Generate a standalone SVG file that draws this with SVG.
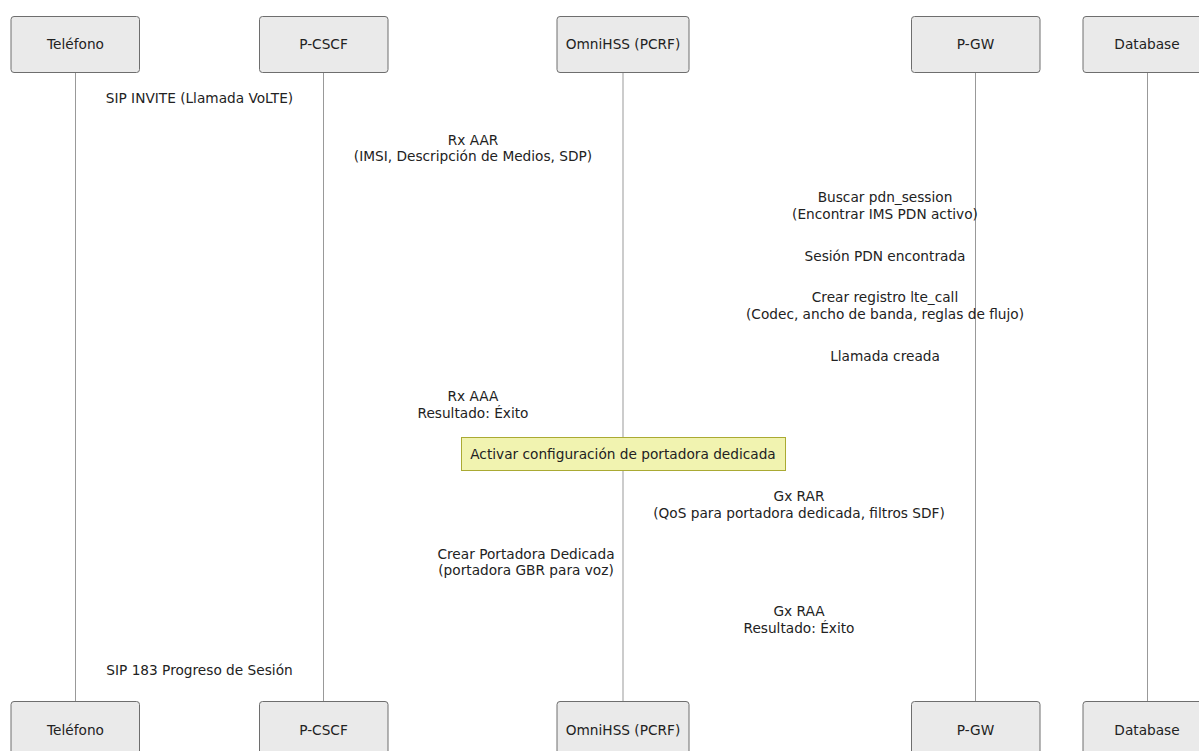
<svg xmlns="http://www.w3.org/2000/svg" width="1199" height="751" viewBox="0 0 1199 751">
<style>
.actor{fill:#eaeaea;stroke:#6e6e6e;stroke-width:1}
.life{stroke:#999;stroke-width:1;fill:none}
.t{font-family:"DejaVu Sans",sans-serif;font-size:13.7px;fill:#222;text-anchor:middle}
.note{fill:#f1f3b0;stroke:#aaaa33;stroke-width:1}
</style>
<rect width="1199" height="751" fill="#ffffff"/>
<g id="connectors">
<line class="life" x1="75.5" y1="73" x2="75.5" y2="702"/>
<line class="life" x1="323.5" y1="73" x2="323.5" y2="702"/>
<line class="life" x1="623" y1="73" x2="623" y2="702"/>
<line class="life" x1="975.5" y1="73" x2="975.5" y2="702"/>
<line class="life" x1="1147.5" y1="73" x2="1147.5" y2="702"/>
<text class="t" x="199.5" y="103">SIP INVITE (Llamada VoLTE)</text>
<text class="t" x="473" y="144.5">Rx AAR</text>
<text class="t" x="473" y="161">(IMSI, Descripción de Medios, SDP)</text>
<text class="t" x="885" y="202">Buscar pdn_session</text>
<text class="t" x="885" y="218.5">(Encontrar IMS PDN activo)</text>
<text class="t" x="885" y="260.5">Sesión PDN encontrada</text>
<text class="t" x="885" y="302">Crear registro lte_call</text>
<text class="t" x="885" y="319">(Codec, ancho de banda, reglas de flujo)</text>
<text class="t" x="885" y="360.5">Llamada creada</text>
<text class="t" x="473" y="400.5">Rx AAA</text>
<text class="t" x="473" y="418">Resultado: Éxito</text>
<text class="t" x="799" y="500.5">Gx RAR</text>
<text class="t" x="799" y="518">(QoS para portadora dedicada, filtros SDF)</text>
<text class="t" x="526" y="558.5">Crear Portadora Dedicada</text>
<text class="t" x="526" y="575">(portadora GBR para voz)</text>
<text class="t" x="799" y="616">Gx RAA</text>
<text class="t" x="799" y="633">Resultado: Éxito</text>
<text class="t" x="199.5" y="674.5">SIP 183 Progreso de Sesión</text>
</g>
<g id="note-bearer">
<rect class="note" x="461.5" y="437.5" width="324" height="33"/>
<text class="t" x="623" y="458.5">Activar configuración de portadora dedicada</text>
</g>
<g id="telefono">
<rect class="actor" x="11" y="16.5" width="128.5" height="56" rx="3"/>
<text class="t" x="75.5" y="49">Teléfono</text>
<rect class="actor" x="11" y="701.5" width="128.5" height="56" rx="3"/>
<text class="t" x="75.5" y="734.5">Teléfono</text>
</g>
<g id="pcscf">
<rect class="actor" x="259.5" y="16.5" width="128.5" height="56" rx="3"/>
<text class="t" x="323.5" y="49">P-CSCF</text>
<rect class="actor" x="259.5" y="701.5" width="128.5" height="56" rx="3"/>
<text class="t" x="323.5" y="734.5">P-CSCF</text>
</g>
<g id="omnihss">
<rect class="actor" x="557" y="16.5" width="132" height="56" rx="3"/>
<text class="t" x="623" y="49">OmniHSS (PCRF)</text>
<rect class="actor" x="557" y="701.5" width="132" height="56" rx="3"/>
<text class="t" x="623" y="734.5">OmniHSS (PCRF)</text>
</g>
<g id="pgw">
<rect class="actor" x="911.5" y="16.5" width="128.5" height="56" rx="3"/>
<text class="t" x="975.5" y="49">P-GW</text>
<rect class="actor" x="911.5" y="701.5" width="128.5" height="56" rx="3"/>
<text class="t" x="975.5" y="734.5">P-GW</text>
</g>
<g id="database">
<rect class="actor" x="1083" y="16.5" width="128.5" height="56" rx="3"/>
<text class="t" x="1147" y="49">Database</text>
<rect class="actor" x="1083" y="701.5" width="128.5" height="56" rx="3"/>
<text class="t" x="1147" y="734.5">Database</text>
</g>
</svg>
